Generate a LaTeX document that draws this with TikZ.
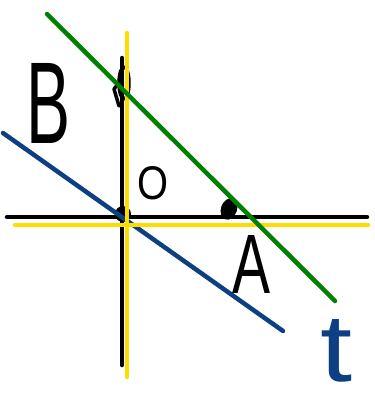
\documentclass[tikz,border=0pt]{standalone}
\usepackage{fontspec}
\setmainfont{Liberation Sans}
\usepackage{graphicx}
\definecolor{lgreen}{RGB}{0,128,0}
\definecolor{lblue}{RGB}{12,64,130}
\definecolor{lyellow}{RGB}{255,220,0}
\begin{document}
\begin{tikzpicture}[x=1pt,y=-1pt,line cap=round,line join=round,
  ln/.style={line width=4.5pt},
  lbl/.style={inner sep=0pt,outer sep=0pt,anchor=center}]
\useasboundingbox (0,0) rectangle (375,397);
\fill[white] (0,0) rectangle (375,397);
% black axes
\draw[ln,black] (7,217) -- (367,217);
\draw[ln,black] (122,58) -- (122,365);
% point marks
\draw[line width=3.5pt,black] (124,83) ellipse [x radius=5,y radius=16];
\draw[line width=3.5pt,black] (118,84) -- (114,89) -- (119,106);
\fill[black] (123,214) circle [radius=8];
\fill[black,rotate around={-20:(229,209)}] (229,209) ellipse [x radius=8,y radius=11];
% blue line
\draw[ln,lblue] (3,133) -- (283,331);
% yellow axes
\draw[ln,lyellow] (15,225) -- (368,225);
\draw[ln,lyellow] (127,33) -- (127,377);
% green line
\draw[ln,lgreen] (47,14) -- (335,301);
% labels
\node[lbl] (B) at (49,103) {\resizebox{44pt}{80pt}{B}};
\node[lbl] (O) at (153,183) {\resizebox{31pt}{33pt}{O}};
\node[lbl] (A) at (252,264) {\resizebox{38pt}{58pt}{A}};
\node[lbl,text=lblue] (t) at (337,351) {\resizebox{32pt}{62pt}{t}};
\end{tikzpicture}
\end{document}
